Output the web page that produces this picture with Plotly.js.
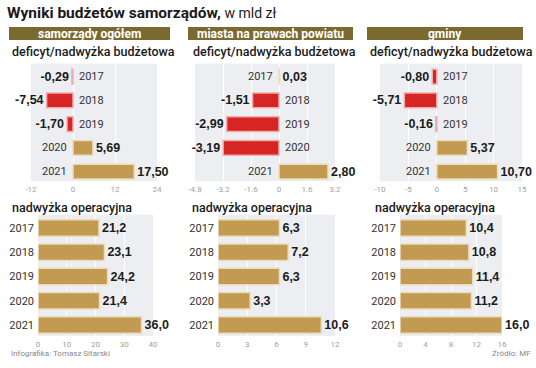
<!DOCTYPE html>
<html><head><meta charset="utf-8">
<script src="https://cdn.plot.ly/plotly-3.0.1.min.js"></script>
<style>html,body{margin:0;padding:0;background:#fff}#c{width:536px;height:368px}</style>
</head><body><div id="c"></div>
<script>
const years = ['2017','2018','2019','2020','2021'];
const defOgolem = [-0.29,-7.54,-1.70,5.69,17.50];
const defPowiat = [0.03,-1.51,-2.99,-3.19,2.80];
const defGminy  = [-0.80,-5.71,-0.16,5.37,10.70];
const opOgolem = [21.2,23.1,24.2,21.4,36.0];
const opPowiat = [6.3,7.2,6.3,3.3,10.6];
const opGminy  = [10.4,10.8,11.4,11.2,16.0];
const ticksDef1 = [-12,0,12,24];
const ticksDef2 = [-4.8,-3.2,-1.6,0,1.6,3.2];
const ticksDef3 = [-10,-5,0,5,10,15];
const ticksOp1 = [0,10,20,30,40];
const ticksOp2 = [0,3,6,9,12];
const ticksOp3 = [0,4,8,12,16];
const headers = ['samorządy ogółem','miasta na prawach powiatu','gminy'];
const subTop = 'deficyt/nadwyżka budżetowa';
const subBottom = 'nadwyżka operacyjna';
const title = 'Wyniki budżetów samorządów,';
const titleUnit = 'w mld zł';
const credit = 'Infografika: Tomasz Sitarski';
const source = 'Źródło: MF';

const W=536,H=368;
const px=x=>x/W, py=y=>1-y/H;
const GOLD='#c39a52', GOLDL='#ecdcbc', RED='#d52525', REDL='#f2aaaa';
const VALFONT={family:'Liberation Sans, Arial, sans-serif',size:12.5,color:'#1b1b1b',weight:700};
const YFONT={family:'Roboto, Liberation Sans, sans-serif',size:11,color:'#333'};
const TFONT={family:'Roboto, Liberation Sans, sans-serif',size:8,color:'#a0a0a0'};

const fmt2=v=>v.toFixed(2).replace('.',',');
const fmt1=v=>v.toFixed(1).replace('.',',');

const topSets=[defOgolem,defPowiat,defGminy];
const botSets=[opOgolem,opPowiat,opGminy];
const topTicks=[ticksDef1,ticksDef2,ticksDef3];
const botTicks=[ticksOp1,ticksOp2,ticksOp3];
const topX=[[31,157],[195,335],[380,522]];
const botX=[[38,153],[218,335],[400,502]];
const topY=[63.6,181.2], botY=[214.7,336];

const data=[]; const layout={width:W,height:H,margin:{l:0,r:0,t:0,b:0},paper_bgcolor:'#fff',plot_bgcolor:'#eceef1',showlegend:false,shapes:[],annotations:[]};

function axisX(ticks,dom){return {domain:[px(dom[0]),px(dom[1])],range:[ticks[0],ticks[ticks.length-1]],tickvals:ticks,ticktext:ticks.map(String),tickfont:TFONT,showgrid:true,gridcolor:'rgba(255,255,255,0.9)',gridwidth:1,zeroline:false,showline:false,ticks:'',ticklabelstandoff:2,fixedrange:true};}

topSets.forEach((vals,i)=>{
  const n=i+1, xa='x'+(n===1?'':n), ya='y'+(n===1?'':n);
  data.push({type:'bar',orientation:'h',x:vals,y:years,xaxis:xa,yaxis:ya,width:0.62,
    marker:{color:vals.map(v=>v<0?RED:GOLD),line:{color:vals.map(v=>v<0?REDL:GOLDL),width:1.5}},
    text:vals.map(fmt2),textposition:'outside',textfont:VALFONT,cliponaxis:false,constraintext:'none',textangle:0,hoverinfo:'skip'});
  layout['xaxis'+(n===1?'':n)]=Object.assign(axisX(topTicks[i],topX[i]),{anchor:ya});
  layout['yaxis'+(n===1?'':n)]={domain:[py(topY[1]),py(topY[0])],type:'category',range:[4.4,-0.55],showticklabels:false,showgrid:false,zeroline:false,anchor:xa,fixedrange:true};
  vals.forEach((v,j)=>{
    layout.annotations.push({xref:xa,yref:ya,x:0,y:j,text:years[j],showarrow:false,xanchor:v<0?'left':'right',yanchor:'middle',xshift:v<0?4:-4,font:YFONT});
  });
});
botSets.forEach((vals,i)=>{
  const n=i+4, xa='x'+n, ya='y'+n;
  data.push({type:'bar',orientation:'h',x:vals,y:years,xaxis:xa,yaxis:ya,width:0.68,
    marker:{color:GOLD,line:{color:GOLDL,width:1.5}},
    text:vals.map(fmt1),textposition:'outside',textfont:VALFONT,cliponaxis:false,constraintext:'none',textangle:0,hoverinfo:'skip'});
  layout['xaxis'+n]=Object.assign(axisX(botTicks[i],botX[i]),{anchor:ya});
  layout['yaxis'+n]={domain:[py(botY[1]),py(botY[0])],type:'category',range:[4.45,-0.55],showticklabels:true,tickfont:YFONT,ticks:'',ticklabelstandoff:3,showgrid:false,zeroline:false,anchor:xa,fixedrange:true};
});

// title
layout.annotations.push({xref:'paper',yref:'paper',x:px(5),y:py(13),xanchor:'left',yanchor:'middle',showarrow:false,
  text:'<b>'+title+'</b> <span style="font-size:14px">'+titleUnit+'</span>',font:{family:'Roboto, Liberation Sans, sans-serif',size:15.5,color:'#1a1a1a'}});
// headers
const hx=[[9,170],[188,353],[367,523]];
headers.forEach((h,i)=>{
  layout.shapes.push({type:'rect',xref:'paper',yref:'paper',x0:px(hx[i][0]),x1:px(hx[i][1]),y0:py(40),y1:py(27),fillcolor:'#7b6a2f',line:{width:0},layer:'below'});
  layout.annotations.push({xref:'paper',yref:'paper',x:px((hx[i][0]+hx[i][1])/2),y:py(33.5),xanchor:'center',yanchor:'middle',showarrow:false,text:'<b>'+h+'</b>',font:{family:'Roboto, Liberation Sans, sans-serif',size:12,color:'#fff'}});
});
const sx=[10,191,368], bx=[10,190,373];
sx.forEach(x=>layout.annotations.push({xref:'paper',yref:'paper',x:px(x),y:py(51),xanchor:'left',yanchor:'middle',showarrow:false,text:subTop,font:{family:'Roboto, Liberation Sans, sans-serif',size:12.5,color:'#1a1a1a',weight:500}}));
bx.forEach(x=>layout.annotations.push({xref:'paper',yref:'paper',x:px(x),y:py(208),xanchor:'left',yanchor:'middle',showarrow:false,text:subBottom,font:{family:'Roboto, Liberation Sans, sans-serif',size:12.5,color:'#1a1a1a',weight:500}}));
layout.annotations.push({xref:'paper',yref:'paper',x:px(9),y:py(353),xanchor:'left',yanchor:'middle',showarrow:false,text:credit,font:{family:'Roboto, sans-serif',size:8,color:'#888'}});
layout.annotations.push({xref:'paper',yref:'paper',x:px(533),y:py(353),xanchor:'right',yanchor:'middle',showarrow:false,text:source,font:{family:'Roboto, sans-serif',size:8,color:'#888'}});

Plotly.newPlot('c',data,layout,{staticPlot:true,displayModeBar:false});
</script></body></html>
